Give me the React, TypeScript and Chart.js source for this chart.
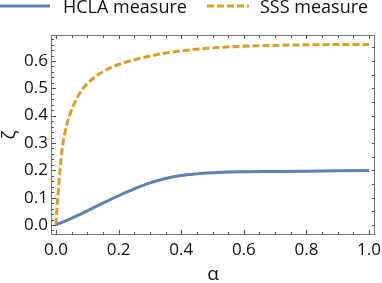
import React, { useEffect, useRef } from "react";
import { Chart, registerables } from "chart.js";

Chart.register(...registerables);

// ---- data ----
const hclaAlpha = [0, 0.05, 0.1, 0.15, 0.2, 0.25, 0.3, 0.35, 0.4, 0.45, 0.5, 0.55, 0.6, 0.7, 0.8, 0.9, 1.0];
const hclaZeta = [0, 0.025, 0.052, 0.08, 0.107, 0.132, 0.154, 0.17, 0.181, 0.187, 0.191, 0.194, 0.195, 0.196, 0.197, 0.198, 0.199];

const sssAlpha = [0, 0.003, 0.007, 0.012, 0.02, 0.03, 0.04, 0.05, 0.065, 0.085, 0.11, 0.15, 0.2, 0.25, 0.3, 0.35, 0.4, 0.5, 0.6, 0.7, 0.8, 0.9, 1.0];
const sssZeta = [0, 0.06, 0.12, 0.19, 0.28, 0.345, 0.39, 0.421, 0.46, 0.497, 0.528, 0.561, 0.587, 0.604, 0.618, 0.629, 0.637, 0.648, 0.654, 0.657, 0.659, 0.66, 0.66];

const seriesNames = ["HCLA measure", "SSS measure"];
const xTickValues = [0, 0.2, 0.4, 0.6, 0.8, 1.0];
const yTickValues = [0, 0.1, 0.2, 0.3, 0.4, 0.5, 0.6];
const xAxisTitle = "α";
const yAxisTitle = "ζ";

const BLUE = "#5E81B5";
const ORANGE = "#E19C24";
const FONT = "'Open Sans', 'DejaVu Sans', sans-serif";
const FRAME = "#7a7a7a";
const TEXT = "#111";

function range(a: number, b: number, step: number): number[] {
  const out: number[] = [];
  const n = Math.round((b - a) / step);
  for (let i = 0; i <= n; i++) out.push(+(a + i * step).toFixed(4));
  return out;
}

const framePlugin = {
  id: "mmaFrame",
  beforeDatasetsDraw(chart: any) {
    const { ctx, chartArea } = chart;
    const { left, right, top, bottom } = chartArea;
    const xs = chart.scales.x;
    const ys = chart.scales.y;
    ctx.save();
    ctx.strokeStyle = FRAME;
    ctx.lineWidth = 1;
    ctx.strokeRect(left + 0.5, top + 0.5, right - left - 1, bottom - top - 1);
    ctx.strokeStyle = "#555";
    ctx.beginPath();
    for (const v of range(0, 1, 0.05)) {
      const px = Math.round(xs.getPixelForValue(v)) + 0.5;
      const major = Math.abs(v / 0.2 - Math.round(v / 0.2)) < 1e-6;
      const lenB = major ? 5 : 3;
      const lenT = major ? 4 : 3;
      ctx.moveTo(px, bottom);
      ctx.lineTo(px, bottom - lenB);
      ctx.moveTo(px, top);
      ctx.lineTo(px, top + lenT);
    }
    for (const v of range(-0.02, 0.68, 0.02)) {
      const py = Math.round(ys.getPixelForValue(v)) + 0.5;
      if (py < top || py > bottom) continue;
      const major = Math.abs(v / 0.1 - Math.round(v / 0.1)) < 1e-6;
      ctx.moveTo(left, py);
      ctx.lineTo(left + (major ? 5 : 3), py);
    }
    for (const v of range(0, 0.65, 0.05)) {
      const py = Math.round(ys.getPixelForValue(v)) + 0.5;
      if (py < top || py > bottom) continue;
      ctx.moveTo(right, py);
      ctx.lineTo(right - 3, py);
    }
    ctx.stroke();
    ctx.restore();
  },
  afterDraw(chart: any) {
    const { ctx, chartArea } = chart;
    ctx.save();
    ctx.lineWidth = 3;
    ctx.strokeStyle = BLUE;
    ctx.setLineDash([]);
    ctx.beginPath();
    ctx.moveTo(0, 6);
    ctx.lineTo(50, 6);
    ctx.stroke();
    ctx.strokeStyle = ORANGE;
    ctx.setLineDash([7, 3]);
    ctx.beginPath();
    ctx.moveTo(207, 6);
    ctx.lineTo(249, 6);
    ctx.stroke();
    ctx.setLineDash([]);
    ctx.fillStyle = TEXT;
    ctx.font = `18px ${FONT}`;
    ctx.textBaseline = "alphabetic";
    ctx.textAlign = "left";
    ctx.fillText(seriesNames[0], 63, 13);
    ctx.fillText(seriesNames[1], 260, 13);
    ctx.font = `19px ${FONT}`;
    ctx.textAlign = "center";
    ctx.textBaseline = "middle";
    ctx.fillText(xAxisTitle, (chartArea.left + chartArea.right) / 2, 275);
    ctx.translate(10, (chartArea.top + chartArea.bottom) / 2);
    ctx.rotate(-Math.PI / 2);
    ctx.fillText(yAxisTitle, 0, 0);
    ctx.restore();
  },
};

export default function App() {
  const ref = useRef<HTMLCanvasElement | null>(null);
  useEffect(() => {
    document.body.style.margin = "0";
    const canvas = ref.current;
    if (!canvas) return;
    const chart = new Chart(canvas, {
      type: "line",
      data: {
        datasets: [
          {
            label: seriesNames[0],
            data: hclaAlpha.map((a, i) => ({ x: a, y: hclaZeta[i] })),
            borderColor: BLUE,
            borderWidth: 3,
            pointRadius: 0,
            fill: false,
            cubicInterpolationMode: "monotone",
          },
          {
            label: seriesNames[1],
            data: sssAlpha.map((a, i) => ({ x: a, y: sssZeta[i] })),
            borderColor: ORANGE,
            borderWidth: 3,
            borderDash: [7, 3],
            pointRadius: 0,
            fill: false,
            cubicInterpolationMode: "monotone",
          },
        ],
      },
      options: {
        animation: false,
        responsive: false,
        maintainAspectRatio: false,
        devicePixelRatio: 1,
        layout: { padding: { top: 35, right: 7, left: 0, bottom: 0 } },
        plugins: { legend: { display: false }, tooltip: { enabled: false } },
        scales: {
          x: {
            type: "linear",
            min: -0.016,
            max: 1.019,
            grid: { display: false, drawTicks: false },
            border: { display: false },
            ticks: {
              font: { family: FONT, size: 17 },
              color: TEXT,
              padding: 5,
              maxRotation: 0,
              autoSkip: false,
              callback: (v: any) => Number(v).toFixed(1),
            },
            afterBuildTicks: (s: any) => {
              s.ticks = xTickValues.map((v) => ({ value: v }));
            },
            afterFit: (s: any) => {
              s.height = 48;
              s.paddingLeft = 0;
              s.paddingRight = 0;
            },
          },
          y: {
            type: "linear",
            min: -0.0366,
            max: 0.695,
            grid: { display: false, drawTicks: false },
            border: { display: false },
            ticks: {
              font: { family: FONT, size: 17 },
              color: TEXT,
              padding: 3,
              autoSkip: false,
              callback: (v: any) => Number(v).toFixed(1),
            },
            afterBuildTicks: (s: any) => {
              s.ticks = yTickValues.map((v) => ({ value: v }));
            },
            afterFit: (s: any) => {
              s.width = 51;
              s.paddingTop = 0;
              s.paddingBottom = 0;
            },
          },
        },
      },
      plugins: [framePlugin],
    } as any);
    return () => chart.destroy();
  }, []);
  return (
    <div style={{ position: "relative", width: 382, height: 283 }}>
      <canvas ref={ref} width={382} height={283} style={{ display: "block", width: 382, height: 283 }} />
    </div>
  );
}
